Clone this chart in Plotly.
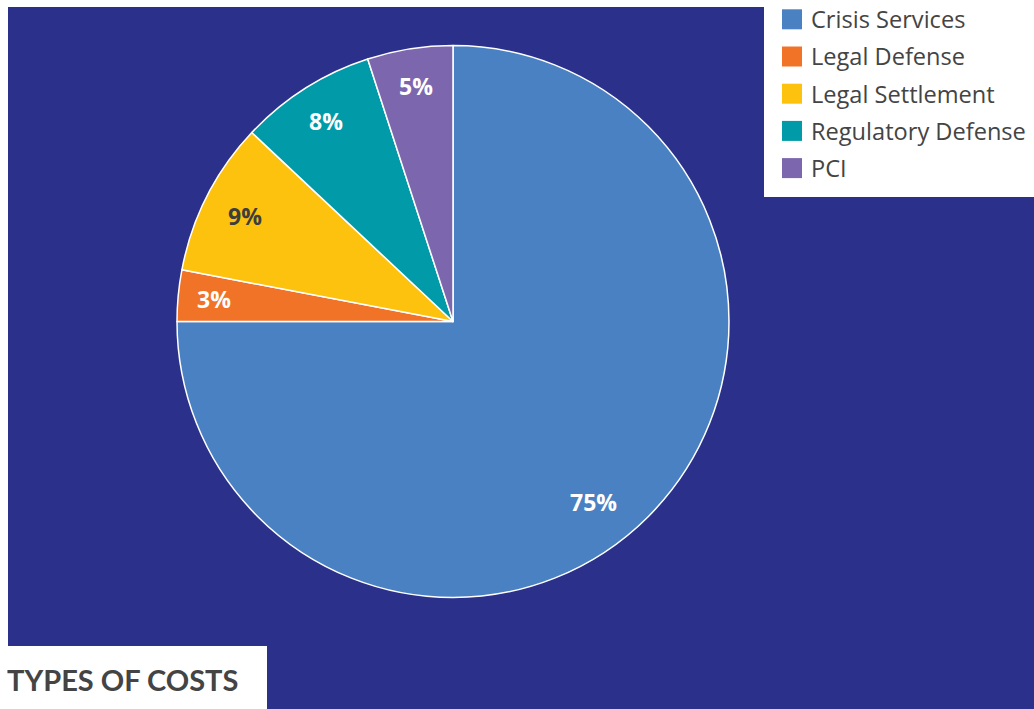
import math
import plotly.graph_objects as go

# Cost breakdown
categories = ["Crisis Services", "Legal Defense", "Legal Settlement", "Regulatory Defense", "PCI"]
shares = [75, 3, 9, 8, 5]
slice_colors = ["#4A81C2", "#F07328", "#FDC20E", "#019AA8", "#7C67AE"]
label_colors = ["#FFFFFF", "#FFFFFF", "#3D3D3D", "#FFFFFF", "#FFFFFF"]
title_text = "TYPES OF COSTS"

W, H = 1034, 709
NAVY = "#2B318B"
GREY = "#444444"

# pie geometry in pixels
CX, CY, R = 453, 321.5, 276
# where each value label sits: fraction along the slice's arc, fraction of radius
LABEL_ARC = [0.526, 0.5, 0.5, 0.5, 0.5]
LABEL_RAD = [0.83, 0.87, 0.845, 0.86, 0.865]


def px(x):
    return x / W


def py(y):
    return 1 - y / H


fig = go.Figure()

fig.add_trace(go.Pie(
    labels=categories,
    values=shares,
    sort=False,
    direction="clockwise",
    rotation=0,
    marker=dict(colors=slice_colors, line=dict(color="#FFFFFF", width=1.5)),
    textinfo="none",
    domain=dict(x=[px(CX - R), px(CX + R)], y=[py(CY + R), py(CY - R)]),
    showlegend=False,
    hoverinfo="label+percent",
))

shapes = [
    # navy panel
    dict(type="rect", xref="paper", yref="paper", x0=px(8), x1=1, y0=0, y1=py(7),
         fillcolor=NAVY, line_width=0, layer="below"),
    # legend card
    dict(type="rect", xref="paper", yref="paper", x0=px(764), x1=1, y0=py(197), y1=1,
         fillcolor="#FFFFFF", line_width=0, layer="below"),
    # title card
    dict(type="rect", xref="paper", yref="paper", x0=0, x1=px(267), y0=0, y1=py(646),
         fillcolor="#FFFFFF", line_width=0, layer="below"),
]

annotations = []

# value labels placed inside each slice, angles derived from the shares
total = sum(shares)
cum = 0.0
for v, col, af, rf in zip(shares, label_colors, LABEL_ARC, LABEL_RAD):
    frac = (cum + v * af) / total
    cum += v
    ang = math.radians(90 - 360 * frac)
    lx = CX + rf * R * math.cos(ang)
    ly = CY - rf * R * math.sin(ang)
    annotations.append(dict(xref="paper", yref="paper", x=px(lx), y=py(ly),
                            xanchor="center", yanchor="middle", showarrow=False,
                            text=f"{v}%",
                            font=dict(family="Open Sans", size=23, color=col, weight=700)))

# legend
row_y0, row_step = 19.3, 37.2
for i, (name, col) in enumerate(zip(categories, slice_colors)):
    cy = row_y0 + i * row_step
    shapes.append(dict(type="rect", xref="paper", yref="paper",
                       x0=px(782), x1=px(802), y0=py(cy + 10), y1=py(cy - 10),
                       fillcolor=col, line_width=0))
    annotations.append(dict(xref="paper", yref="paper", x=px(809), y=py(cy),
                            xanchor="left", yanchor="middle", showarrow=False,
                            text=name, font=dict(family="Open Sans", size=23.6, color=GREY)))

annotations.append(dict(xref="paper", yref="paper", x=px(5), y=py(679),
                        xanchor="left", yanchor="middle", showarrow=False,
                        text=title_text,
                        font=dict(family="Lato", size=29, color=GREY, weight=700)))

fig.update_layout(
    width=W, height=H,
    margin=dict(l=0, r=0, t=0, b=0),
    paper_bgcolor="#FFFFFF",
    plot_bgcolor="#FFFFFF",
    shapes=shapes,
    annotations=annotations,
)

fig.write_html("out.html")
